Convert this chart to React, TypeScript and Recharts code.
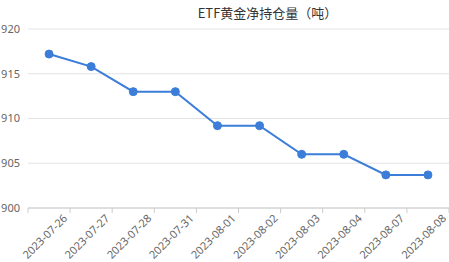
import { LineChart, Line, XAxis, YAxis, CartesianGrid } from 'recharts'

const dates = ['2023-07-26', '2023-07-27', '2023-07-28', '2023-07-31', '2023-08-01', '2023-08-02', '2023-08-03', '2023-08-04', '2023-08-07', '2023-08-08']
const holdings = [917.2, 915.8, 913.0, 913.0, 909.2, 909.2, 906.0, 906.0, 903.7, 903.7]
const yTicks = [900, 905, 910, 915, 920]

const data = dates.map((d, i) => ({ date: d, value: holdings[i] }))

const BAND = 42.1

function DateTick(props: any) {
  const { x, y, payload, index } = props
  const ax = x + 19
  const ay = y + 11
  return (
    <g>
      <line x1={x - BAND / 2} x2={x - BAND / 2} y1={y} y2={y + 5} stroke="#ccc" />
      {index === dates.length - 1 && <line x1={x + BAND / 2} x2={x + BAND / 2} y1={y} y2={y + 5} stroke="#ccc" />}
      <text x={ax} y={ay} textAnchor="end" fill="#666" fontSize={11} fontFamily="'Noto Sans', sans-serif" transform={`rotate(-45, ${ax}, ${ay})`}>
        {payload.value}
      </text>
    </g>
  )
}

export default function App() {
  return (
    <div style={{ position: 'absolute', left: 0, top: 0, width: 449, height: 262, background: '#fff' }}>
      <div style={{ position: 'absolute', left: 0, width: 535, top: 4, textAlign: 'center', fontSize: 13, color: '#333', fontFamily: "'Noto Sans CJK SC', sans-serif", lineHeight: '18px' }}>
        ETF黄金净持仓量（吨）
      </div>
      <LineChart width={449} height={262} data={data} margin={{ top: 29, right: 0, left: 0, bottom: 0 }}>
        <CartesianGrid vertical={false} stroke="#e3e3e3" />
        <XAxis dataKey="date" scale="band" interval={0} height={54} tickLine={false} tickSize={0} tickMargin={0} stroke="#ccc" tick={<DateTick />} />
        <YAxis domain={[900, 920]} ticks={yTicks} width={28} axisLine={false} tickLine={false} tickSize={0} tickMargin={8} tick={{ fill: '#666', fontSize: 11, fontFamily: "'Noto Sans', sans-serif" }} />
        <Line type="linear" dataKey="value" stroke="#3b7dd8" strokeWidth={2} dot={{ r: 4, fill: '#3b7dd8', stroke: '#3b7dd8', strokeWidth: 1 }} isAnimationActive={false} />
      </LineChart>
    </div>
  )
}
